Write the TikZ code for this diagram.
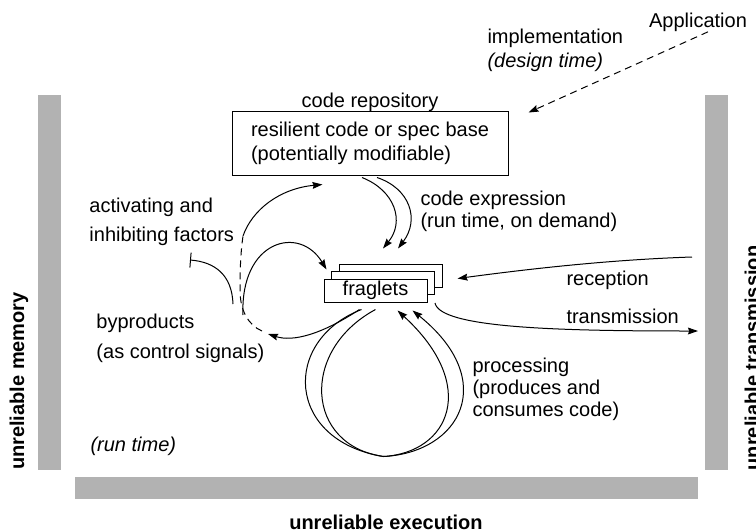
\documentclass[tikz,border=0pt]{standalone}
\usepackage{fontspec}
\setmainfont{Liberation Sans}
\usetikzlibrary{arrows.meta, calc}
\definecolor{bargray}{RGB}{178, 178, 178}

\begin{document}
\begin{tikzpicture}[x=0.5pt, y=-0.5pt, line width=0.5pt,
  lbl/.style={inner sep=0pt, align=left, anchor=west},
  flow/.style={-{Stealth[length=5pt, width=3.4pt, inset=0.6pt]}},
  signal/.style={dashed, dash pattern=on 3.5pt off 2.5pt},
  sidelbl/.style={font=\bfseries, inner sep=0pt, rotate=90},
  fragbox/.style={draw, fill=white, minimum width=51.5pt, minimum height=11.5pt, inner sep=0pt}]
  \useasboundingbox (0,0) rectangle (756,531);

  % Memory, execution and transmission bars
  \fill[bargray] (38,95) rectangle (61,470);
  \fill[bargray] (705,95) rectangle (728,470);
  \fill[bargray] (75,477) rectangle (698,499);
  \node[sidelbl] (mem) at (19,381) {unreliable memory};
  \node[sidelbl] (trans) at (752,358) {unreliable transmission};
  \node[font=\bfseries, inner sep=0pt] (exec) at (386,522) {unreliable execution};

  % Code repository
  \node[inner sep=0pt] (repolbl) at (370,102) {code repository};
  \node[draw, minimum width=138pt, minimum height=32pt, align=left, inner sep=0pt] (repo) at (370,143) {resilient code or spec base\\(potentially modifiable)};

  % Application
  \node[inner sep=0pt] (app) at (698,22) {Application};
  \node[lbl] (impl) at (487,50) {implementation\\\textit{(design time)}};
  \draw[flow, signal] ([xshift=5pt]app.south) -- ([xshift=10pt, yshift=-1pt]repo.north east);

  % Fraglets stack
  \node[fragbox] (fragback) at (390.5,275.5) {};
  \node[fragbox] (fragmid) at (383,283) {};
  \node[fragbox] (frag) at (375.5,290.5) {fraglets};

  % Code expression
  \draw[flow] ($(repo.south)+(-8,2)$) .. controls +(33,13) and +(22,-27) .. ($(fragback.north)+(-7.5,-15)$);
  \draw[flow] ($(repo.south)+(7,2)$) .. controls +(33,11) and +(22,-29) .. ($(fragback.north)+(7.5,-15)$);
  \node[lbl, font=\fontsize{10}{11}\selectfont] (expr) at (420,211) {code expression\\(run time, on demand)};

  % Reception and transmission
  \coordinate (rxin) at (692,257);
  \coordinate (txout) at (698,331);
  \draw[flow] (rxin) .. controls +(-90,3) and +(60,-8) .. ($(fragback.east)+(15,3)$);
  \draw[flow] ($(fragmid.south east)+(0,8)$) .. controls +(5,25) and +(-140,0) .. (txout);
  \node[lbl] (rxlbl) at (566,280) {reception};
  \node[lbl] (txlbl) at (566,316) {transmission};

  % Processing loops
  \coordinate (loopbot) at ($(frag.south)+(8,154)$);
  \draw[flow] ($(frag.south west)+(38,7)$) .. controls +(-80,31) and +(-98,-16) .. (loopbot)
    .. controls +(77,-4) and +(87,70) .. ($(frag.south west)+(89,8)$);
  \draw[flow] ($(frag.south west)+(52,7)$) .. controls +(-76,41) and +(-78,-11) .. (loopbot)
    .. controls +(66,-4) and +(82,75) .. ($(frag.south west)+(74,8)$);
  \node[lbl, font=\fontsize{10}{11}\selectfont] (proc) at (472,389) {processing\\(produces and\\consumes code)};

  % Byproducts fed back as control signals
  \coordinate (bpin) at (268,334);
  \coordinate (sigtop) at (243,236);
  \coordinate (sigbot) at (243,315);
  \coordinate (inhstart) at (233,304);
  \coordinate (inhend) at (190,260);
  \draw[flow] ($(frag.south west)+(36,7)$) .. controls +(-38,25) and +(25,8) .. (bpin);
  \draw[signal] ($(bpin)+(-6,-3)$) .. controls +(-14,-6) and +(0,20) .. (240,290) .. controls +(0,-25) and +(-2,14) .. (sigtop);
  \draw[flow] (sigtop) .. controls +(9,-26) and +(-43,4) .. ($(repo.south west)+(91,9)$);
  \draw[flow] (sigbot) .. controls +(-3,-75) and +(-27,-45) .. ($(frag.north west)+(3,-9)$);
  \draw[-{Bar[width=7.5pt]}] (inhstart) .. controls +(-1,-29) and +(25,2) .. (inhend);
  \node[lbl] (actlbl) at (89,222) {activating and\\[2.5pt]inhibiting factors};
  \node[lbl] (bplbl) at (96,338) {byproducts\\[3pt](as control signals)};
  \node[lbl, font=\itshape] (rt) at (90,446) {(run time)};
\end{tikzpicture}
\end{document}
